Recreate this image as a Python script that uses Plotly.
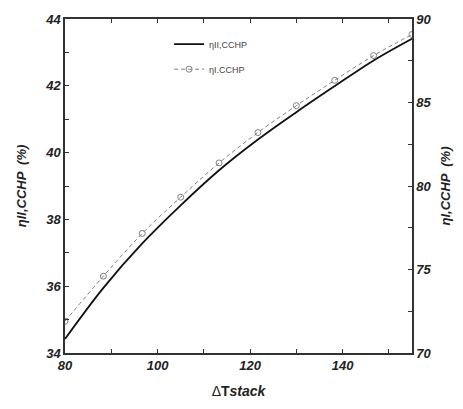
import plotly.graph_objects as go

# Stack temperature difference (x) and the two CCHP efficiencies
dT_stack = [80, 88.3, 96.7, 105, 113.3, 121.7, 130, 138.3, 146.7, 155]
eta_II = [34.42, 35.95, 37.28, 38.42, 39.47, 40.39, 41.21, 41.99, 42.76, 43.41]
eta_I = [71.9, 74.6, 77.16, 79.33, 81.38, 83.2, 84.81, 86.33, 87.81, 89.07]

tick_font = dict(family="Liberation Sans", size=13, color="#222",
                 weight="bold", style="italic")
title_font = dict(family="Liberation Sans", size=13, color="#222",
                  weight="bold", style="italic")

fig = go.Figure()

fig.add_trace(go.Scatter(
    x=dT_stack, y=eta_II, mode="lines", name="ηII,CCHP",
    line=dict(color="#111", width=1.8, shape="spline"),
    legendgroup="a", yaxis="y",
))
fig.add_trace(go.Scatter(
    x=dT_stack, y=eta_I, mode="lines+markers", name="ηI.CCHP",
    line=dict(color="#808080", width=1, dash="4px,3px", shape="spline"),
    marker=dict(symbol="circle-open", size=6, color="#808080",
                line=dict(width=1)),
    legendgroup="b", yaxis="y2",
))

fig.update_layout(
    width=463, height=409,
    margin=dict(l=65, r=42, t=17, b=54),
    paper_bgcolor="white", plot_bgcolor="white",
    showlegend=True,
    legend=dict(x=0.3, y=0.968, xanchor="left", yanchor="top",
                bgcolor="rgba(0,0,0,0)", tracegroupgap=6,
                font=dict(family="Liberation Sans", size=9, color="#444"),
                itemwidth=30),
    xaxis=dict(
        range=[80, 155], dtick=20, tick0=80,
        ticks="inside", ticklen=4, tickcolor="#333",
        showline=True, linecolor="#333", linewidth=1.5, mirror="ticks",
        showgrid=False, zeroline=False,
        tickfont=tick_font,
        minor=dict(dtick=10, tick0=80, ticks="inside", ticklen=4,
                   tickcolor="#333", showgrid=False),
        title=dict(text="Δ<b>T<i>stack</i></b>", standoff=14,
                   font=dict(family="Liberation Sans", size=14, color="#222")),
    ),
    yaxis=dict(
        range=[34, 44], dtick=2, tick0=34,
        ticks="inside", ticklen=4, tickcolor="#333",
        showline=True, linecolor="#333", linewidth=1.5,
        showgrid=False, zeroline=False,
        tickfont=tick_font,
        minor=dict(dtick=1, tick0=34, ticks="inside", ticklen=4,
                   tickcolor="#333", showgrid=False),
        title=dict(text="ηII,CCHP  (%)", standoff=16, font=title_font),
    ),
    yaxis2=dict(
        range=[70, 90], dtick=5, tick0=70,
        overlaying="y", side="right",
        ticks="inside", ticklen=4, tickcolor="#333",
        showline=True, linecolor="#333", linewidth=1.5,
        showgrid=False, zeroline=False,
        tickfont=tick_font,
        minor=dict(dtick=2.5, tick0=70, ticks="inside", ticklen=4,
                   tickcolor="#333", showgrid=False),
        title=dict(text="ηI,CCHP  (%)", standoff=10, font=title_font),
    ),
)

fig.write_html("out.html")
